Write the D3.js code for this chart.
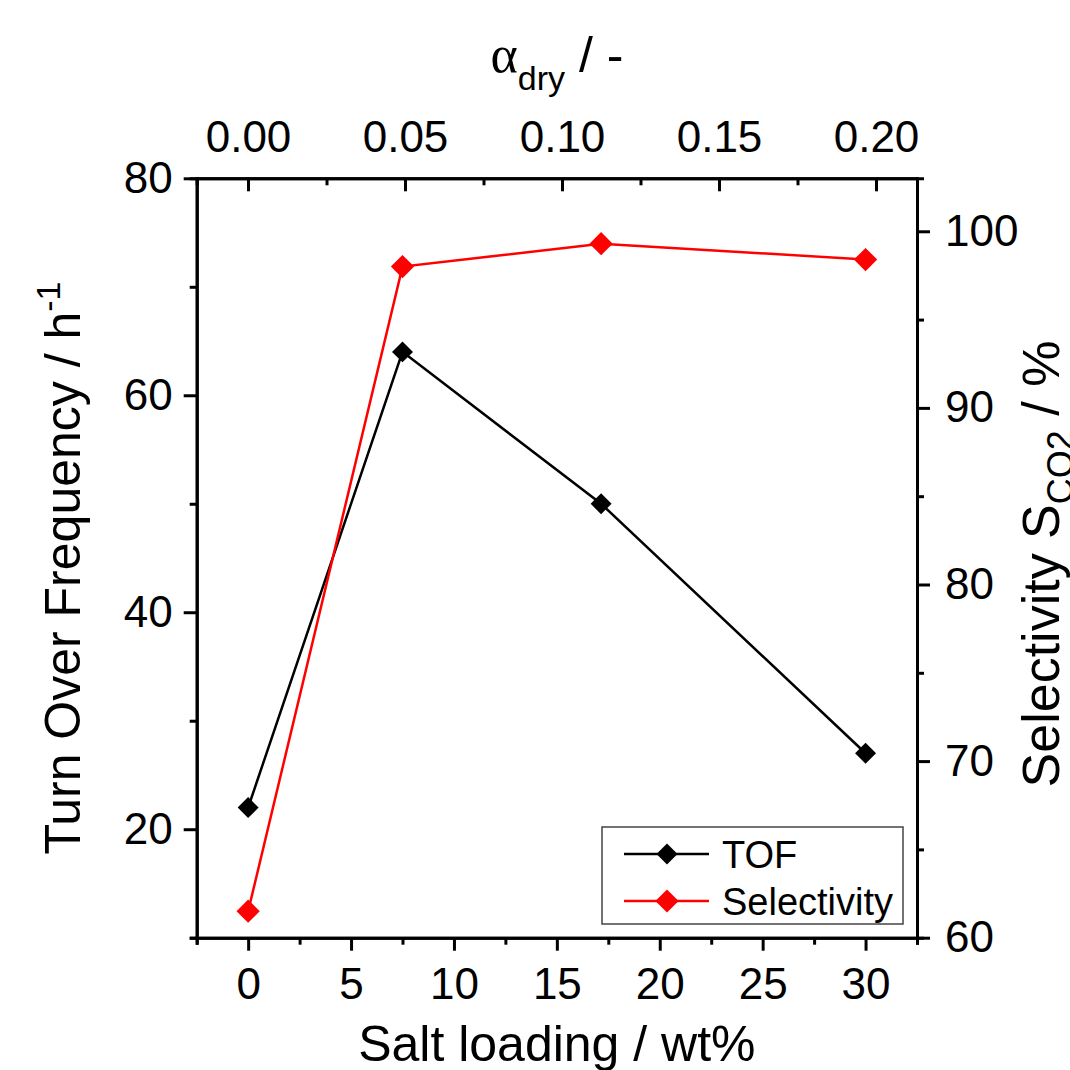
<!DOCTYPE html>
<html>
<head>
<meta charset="utf-8">
<script src="https://cdn.jsdelivr.net/npm/d3@7"></script>
<style>
  body { margin: 0; background: #fff; }
  svg { display: block; font-family: "Liberation Sans", Arial, sans-serif; }
</style>
</head>
<body>
<div id="main"></div>
<script>
const Width = 1070, Height = 1070;

// data
const saltLoading = [0, 7.5, 17.15, 30];
const tofValues = [22, 64, 50, 27];
const selectivityValues = [61.5, 98, 99.3, 98.4];
const seriesNames = ["TOF", "Selectivity"];
const seriesColors = ["#000000", "#ff0000"];

const bottomTicks = [0, 5, 10, 15, 20, 25, 30];
const bottomMinor = [-2.5, 2.5, 7.5, 12.5, 17.5, 22.5, 27.5, 32.5];
const topTicks = [0, 0.05, 0.10, 0.15, 0.20];
const topMinor = [0.025, 0.075, 0.125, 0.175];
const leftTicks = [20, 40, 60, 80];
const leftMinor = [10, 30, 50, 70];
const rightTicks = [60, 70, 80, 90, 100];
const rightMinor = [65, 75, 85, 95];

const margin = {left: 196.7, top: 178.3, right: 153, bottom: 132.3};

const svg = d3.select("#main")
    .append("svg")
    .attr("width", Width)
    .attr("height", Height);

let Xscale = d3.scaleLinear().domain([-2.5, 32.5]).range([margin.left, Width - margin.right]);
let Xtop = d3.scaleLinear().domain([-0.01634, 0.21306]).range([margin.left, Width - margin.right]);
let Yleft = d3.scaleLinear().domain([10, 80]).range([Height - margin.bottom, margin.top]);
let Yright = d3.scaleLinear().domain([60, 103]).range([Height - margin.bottom, margin.top]);

function styleAxis(g, size) {
    g.select(".domain").attr("stroke-width", 3).attr("stroke", "#000");
    g.selectAll(".tick line").attr("stroke-width", 3).attr("stroke", "#000");
    g.selectAll("text").attr("font-size", size).attr("fill", "#000")
        .attr("font-family", "'Liberation Sans', Arial, sans-serif");
}

// minor ticks first
svg.append("g").attr("transform", `translate(0,${Height - margin.bottom})`)
    .call(d3.axisBottom(Xscale).tickValues(bottomMinor).tickSize(7).tickFormat(""))
    .call(g => styleAxis(g, 44));
svg.append("g").attr("transform", `translate(0,${margin.top})`)
    .call(d3.axisTop(Xtop).tickValues(topMinor).tickSize(-7).tickFormat(""))
    .call(g => styleAxis(g, 44));
svg.append("g").attr("transform", `translate(${margin.left},0)`)
    .call(d3.axisLeft(Yleft).tickValues(leftMinor).tickSize(7).tickFormat(""))
    .call(g => styleAxis(g, 44));
svg.append("g").attr("transform", `translate(${Width - margin.right},0)`)
    .call(d3.axisRight(Yright).tickValues(rightMinor).tickSize(7).tickFormat(""))
    .call(g => styleAxis(g, 44));

// major ticks
svg.append("g").attr("transform", `translate(0,${Height - margin.bottom})`)
    .call(d3.axisBottom(Xscale).tickValues(bottomTicks).tickSizeInner(13).tickSizeOuter(0).tickPadding(17).tickFormat(d3.format("d")))
    .call(g => styleAxis(g, 44));
svg.append("g").attr("transform", `translate(0,${margin.top})`)
    .call(d3.axisTop(Xtop).tickValues(topTicks).tickSizeInner(-13).tickSizeOuter(0).tickPadding(26).tickFormat(d3.format(".2f")))
    .call(g => styleAxis(g, 44));
svg.append("g").attr("transform", `translate(${margin.left},0)`)
    .call(d3.axisLeft(Yleft).tickValues(leftTicks).tickSizeInner(13).tickSizeOuter(0).tickPadding(11).tickFormat(d3.format("d")))
    .call(g => styleAxis(g, 44));
svg.append("g").attr("transform", `translate(${Width - margin.right},0)`)
    .call(d3.axisRight(Yright).tickValues(rightTicks).tickSizeInner(13).tickSizeOuter(0).tickPadding(15).tickFormat(d3.format("d")))
    .call(g => styleAxis(g, 44));

// axis titles
svg.append("text")
    .attr("x", (margin.left + Width - margin.right) / 2)
    .attr("y", 1061)
    .attr("text-anchor", "middle")
    .attr("font-size", 50)
    .text("Salt loading / wt%");

const topTitle = svg.append("text")
    .attr("x", 557)
    .attr("y", 72)
    .attr("text-anchor", "middle")
    .attr("font-size", 50);
topTitle.append("tspan").attr("font-family", "'Liberation Serif', serif").attr("font-size", 52).text("α");
topTitle.append("tspan").attr("font-size", 34).attr("dy", 18).text("dry");
topTitle.append("tspan").attr("dy", -18).text(" / -");

const leftTitle = svg.append("text")
    .attr("transform", "translate(80,568) rotate(-90)")
    .attr("text-anchor", "middle")
    .attr("font-size", 50);
leftTitle.append("tspan").text("Turn Over Frequency / h");
leftTitle.append("tspan").attr("font-size", 34).attr("dy", -20).text("-1");

const rightTitle = svg.append("text")
    .attr("transform", "translate(1059,564) rotate(-90)")
    .attr("text-anchor", "middle")
    .attr("font-size", 52);
rightTitle.append("tspan").text("Selectivity S");
rightTitle.append("tspan").attr("font-size", 36).attr("dy", 14).text("CO2");
rightTitle.append("tspan").attr("dy", -14).text(" / %");

// series
const series = [
    {name: seriesNames[0], color: seriesColors[0], y: Yleft, values: tofValues, size: 220},
    {name: seriesNames[1], color: seriesColors[1], y: Yright, values: selectivityValues, size: 270}
];

series.forEach(s => {
    const pts = saltLoading.map((x, i) => [Xscale(x), s.y(s.values[i])]);
    svg.append("path")
        .attr("d", d3.line()(pts))
        .attr("fill", "none")
        .attr("stroke", s.color)
        .attr("stroke-width", 2.5);
    svg.append("g").selectAll("path").data(pts).enter().append("path")
        .attr("d", d3.symbol(d3.symbolSquare, s.size)())
        .attr("transform", d => `translate(${d[0]},${d[1]}) rotate(45)`)
        .attr("fill", s.color);
});

// legend
const legend = svg.append("g");
legend.append("rect")
    .attr("x", 602).attr("y", 827)
    .attr("width", 301).attr("height", 97)
    .attr("fill", "#fff")
    .attr("stroke", "#444")
    .attr("stroke-width", 1.5);
series.forEach((s, i) => {
    const y = 854 + i * 47;
    legend.append("line")
        .attr("x1", 624).attr("x2", 709)
        .attr("y1", y).attr("y2", y)
        .attr("stroke", s.color).attr("stroke-width", 2.5);
    legend.append("path")
        .attr("d", d3.symbol(d3.symbolSquare, s.size)())
        .attr("transform", `translate(667,${y}) rotate(45)`)
        .attr("fill", s.color);
    legend.append("text")
        .attr("x", 722).attr("y", y + 14)
        .attr("font-size", 38)
        .text(s.name);
});
</script>
</body>
</html>
